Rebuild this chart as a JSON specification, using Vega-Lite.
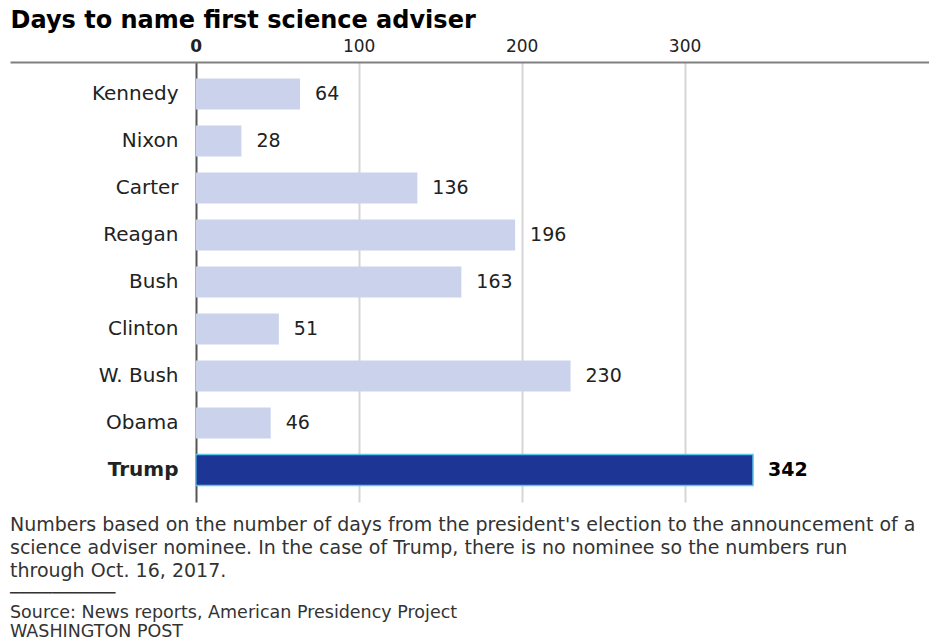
{
  "$schema": "https://vega.github.io/schema/vega-lite/v6.json",
  "width": 919,
  "height": 440,
  "autosize": "none",
  "padding": {"left": 10, "top": 62, "right": 0, "bottom": 139},
  "background": "white",
  "config": {"view": {"stroke": null}, "font": "DejaVu Sans"},
  "title": {
    "text": [
      "Numbers based on the number of days from the president's election to the announcement of a",
      "science adviser nominee. In the case of Trump, there is no nominee so the numbers run",
      "through Oct. 16, 2017."
    ],
    "subtitle": ["──────────", "Source: News reports, American Presidency Project", "WASHINGTON POST"],
    "orient": "bottom",
    "anchor": "start",
    "frame": "group",
    "offset": 14,
    "font": "DejaVu Sans",
    "fontSize": 19,
    "fontWeight": "normal",
    "color": "#333333",
    "lineHeight": 23,
    "subtitleFont": "DejaVu Sans",
    "subtitleFontSize": 17.5,
    "subtitleColor": "#333333",
    "subtitleLineHeight": 19,
    "subtitlePadding": 4
  },
  "data": {
    "values": [
      {"president": "Kennedy", "days": 64},
      {"president": "Nixon", "days": 28},
      {"president": "Carter", "days": 136},
      {"president": "Reagan", "days": 196},
      {"president": "Bush", "days": 163},
      {"president": "Clinton", "days": 51},
      {"president": "W. Bush", "days": 230},
      {"president": "Obama", "days": 46},
      {"president": "Trump", "days": 342}
    ]
  },
  "encoding": {
    "y": {
      "field": "president",
      "type": "nominal",
      "sort": null,
      "scale": {"paddingInner": 0.34, "paddingOuter": 0.35},
      "axis": {
        "title": null,
        "domain": false,
        "ticks": false,
        "tickSize": 0,
        "labelAlign": "right",
        "labelPadding": -168,
        "labelFontSize": 20,
        "labelColor": "#222222",
        "labelFontWeight": {"condition": {"test": "datum.value === 'Trump'", "value": "bold"}, "value": "normal"}
      }
    },
    "x": {
      "field": "days",
      "type": "quantitative",
      "scale": {"domain": [-114, 450], "nice": false, "zero": false},
      "axis": {
        "orient": "top",
        "values": [0, 100, 200, 300],
        "title": "Days to name first science adviser",
        "titleAnchor": "start",
        "titleAlign": "left",
        "titleX": 0,
        "titleY": -35,
        "titleBaseline": "alphabetic",
        "titleFont": "DejaVu Sans",
        "titleFontSize": 24,
        "titleFontWeight": "bold",
        "titleColor": "#000000",
        "domain": true,
        "domainColor": "#808080",
        "domainWidth": 2,
        "ticks": false,
        "tickSize": 0,
        "labelPadding": 7,
        "labelFontSize": 17,
        "labelColor": "#222222",
        "labelFontWeight": {"condition": {"test": "datum.value === 0", "value": "bold"}, "value": "normal"},
        "grid": true,
        "gridWidth": 2,
        "gridColor": {"condition": {"test": "datum.value === 0", "value": "#555555"}, "value": "#d6d6d6"}
      }
    }
  },
  "layer": [
    {
      "mark": {"type": "bar", "strokeWidth": 1.5},
      "encoding": {
        "color": {"condition": {"test": "datum.president === 'Trump'", "value": "#1d3594"}, "value": "#cbd2ec"},
        "stroke": {"condition": {"test": "datum.president === 'Trump'", "value": "#5cc6e6"}, "value": "transparent"}
      }
    },
    {
      "transform": [{"filter": "datum.president !== 'Trump'"}],
      "mark": {"type": "text", "align": "left", "dx": 15, "fontSize": 19, "color": "#222222"},
      "encoding": {"text": {"field": "days", "type": "quantitative"}}
    },
    {
      "transform": [{"filter": "datum.president === 'Trump'"}],
      "mark": {"type": "text", "align": "left", "dx": 15, "fontSize": 19, "fontWeight": "bold", "color": "#000000"},
      "encoding": {"text": {"field": "days", "type": "quantitative"}}
    }
  ]
}
